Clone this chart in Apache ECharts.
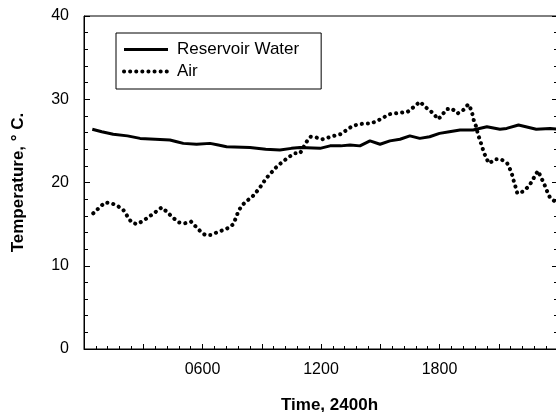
<!DOCTYPE html>
<html>
<head>
<meta charset="utf-8">
<script src="https://cdn.jsdelivr.net/npm/echarts@6/dist/echarts.min.js"></script>
<style>
html,body{margin:0;padding:0;background:#fff;overflow:hidden;}
#chart{width:556px;height:412px;}
</style>
</head>
<body>
<div id="chart"></div>
<script>
// Time in hours (0-24), temperature in °C
var waterHours = [0.42,0.9,1.48,2.2,2.84,3.6,4.35,4.7,5.03,5.7,6.38,6.8,7.22,8.4,9.2,9.92,10.5,10.94,11.95,12.46,13.0,13.47,13.97,14.48,14.99,15.49,16.0,16.5,17.0,17.5,18.0,18.5,19.04,19.7,20.4,21.06,21.4,22.0,22.9,23.6,24.0];
var waterTemps = [26.4,26.1,25.8,25.6,25.3,25.2,25.1,24.9,24.7,24.6,24.7,24.5,24.3,24.2,24.0,23.9,24.1,24.2,24.1,24.4,24.4,24.5,24.4,25.0,24.6,25.0,25.2,25.6,25.3,25.5,25.9,26.1,26.3,26.3,26.7,26.4,26.5,26.9,26.4,26.5,26.4];

var airHours = [0.47,0.78,1.06,1.4,1.69,1.99,2.21,2.41,2.67,3.0,3.3,3.59,3.93,4.19,4.49,4.81,5.11,5.42,5.62,5.87,6.13,6.41,6.72,7.05,7.36,7.56,7.7,7.81,7.98,8.24,8.49,8.74,9.0,9.22,9.45,9.72,10.01,10.34,10.65,10.94,11.27,11.48,11.78,12.08,12.37,12.66,12.99,13.3,13.6,13.94,14.23,14.53,14.85,15.16,15.46,15.78,16.09,16.39,16.71,17.01,17.32,17.64,17.94,18.16,18.36,18.61,18.92,19.2,19.46,19.59,19.68,19.75,19.88,19.93,20.05,20.14,20.25,20.39,20.52,20.81,21.11,21.43,21.57,21.68,21.77,21.86,21.94,22.21,22.5,22.7,22.87,23.0,23.12,23.29,23.42,23.59,23.8,24.0];
var airTemps = [16.3,17.0,17.6,17.5,17.2,16.7,15.9,15.2,15.0,15.4,15.9,16.4,17.0,16.5,15.8,15.2,15.1,15.3,14.8,14.2,13.7,13.7,14.0,14.3,14.6,15.0,15.8,16.5,17.2,17.8,18.2,18.9,19.7,20.5,21.1,21.8,22.4,23.0,23.5,23.5,24.9,25.5,25.4,25.2,25.4,25.6,25.8,26.3,26.8,27.0,27.1,27.1,27.4,27.8,28.2,28.3,28.4,28.5,29.1,29.7,29.0,28.4,27.6,28.2,28.8,28.9,28.3,28.7,29.4,28.8,28.1,27.3,26.6,25.9,25.1,24.4,23.6,22.8,22.3,22.8,22.8,22.3,21.6,20.9,20.1,19.4,18.7,18.9,19.5,20.2,21.0,21.4,20.7,19.9,19.1,18.2,17.8,17.4];

var seriesNames = ['Reservoir Water', 'Air'];
var xLabelHours = [6, 12, 18];
var yTickValues = [0, 10, 20, 30, 40];

function pairs(xs, ys) { return xs.map(function (x, i) { return [x, ys[i]]; }); }
function hhmm(v) { var h = Math.round(v * 100); var s = String(h); while (s.length < 4) s = '0' + s; return s; }

var FONT = '"Liberation Sans", Arial, Helvetica, sans-serif';
var chart = echarts.init(document.getElementById('chart'), null, {renderer: 'canvas'});
chart.setOption({
  backgroundColor: '#fff',
  animation: false,
  textStyle: {fontFamily: FONT, color: '#000'},
  grid: {left: 84, width: 474, top: 16, height: 333, outerBoundsMode: 'none', containLabel: false,
    show: true, borderColor: '#000', borderWidth: 1, backgroundColor: 'transparent'},
  legend: {
    orient: 'vertical', left: 116, top: 33,
    padding: [8, 22, 9, 6],
    itemWidth: 44, itemHeight: 14, itemGap: 5,
    borderColor: '#000', borderWidth: 1, borderRadius: 0, backgroundColor: '#fff',
    itemStyle: {color: 'rgba(0,0,0,0)', borderColor: 'rgba(0,0,0,0)', borderWidth: 0, opacity: 0},
    lineStyle: {width: 'inherit', type: 'inherit', color: 'inherit'},
    textStyle: {fontFamily: FONT, fontSize: 17, color: '#000', padding: [0, 0, 0, 4]},
    data: seriesNames
  },
  xAxis: {
    type: 'value', min: 0, max: 24, interval: 3,
    name: 'Time, 2400h', nameLocation: 'middle', nameGap: 48,
    nameTextStyle: {fontFamily: FONT, fontSize: 17, fontWeight: 'bold', color: '#000', padding: [0, 0, 0, 17]},
    axisLine: {show: true, lineStyle: {color: '#000', width: 1}},
    axisTick: {show: true, inside: true, length: 5, lineStyle: {color: '#000'}},
    minorTick: {show: true, splitNumber: 5, length: 3, lineStyle: {color: '#000'}},
    axisLabel: {fontFamily: FONT, fontSize: 16, color: '#000', margin: 13,
      formatter: function (v) { return xLabelHours.indexOf(v) >= 0 ? hhmm(v) : ''; }},
    splitLine: {show: false}
  },
  yAxis: [{
    type: 'value', min: 0, max: 40, interval: 10, position: 'left',
    name: 'Temperature, ° C.', nameLocation: 'middle', nameGap: 57, nameRotate: 90,
    nameTextStyle: {fontFamily: FONT, fontSize: 17, fontWeight: 'bold', color: '#000'},
    axisLine: {show: true, lineStyle: {color: '#000', width: 1}},
    axisTick: {show: true, inside: true, length: 6, lineStyle: {color: '#000'}},
    minorTick: {show: true, splitNumber: 5, length: 4, lineStyle: {color: '#000'}},
    axisLabel: {fontFamily: FONT, fontSize: 16, color: '#000', margin: 15, padding: [4, 0, 0, 0],
      formatter: function (v) { return yTickValues.indexOf(v) >= 0 ? String(v) : ''; }},
    splitLine: {show: false}
  }, {
    type: 'value', min: 0, max: 40, interval: 10, position: 'right',
    axisLine: {show: true, lineStyle: {color: '#000', width: 1}},
    axisTick: {show: true, inside: true, length: 6, lineStyle: {color: '#000'}},
    minorTick: {show: true, splitNumber: 5, length: 4, lineStyle: {color: '#000'}},
    axisLabel: {show: false},
    splitLine: {show: false}
  }],
  series: [{
    name: seriesNames[0], type: 'line', showSymbol: false, symbol: 'none',
    data: pairs(waterHours, waterTemps),
    lineStyle: {color: '#000', width: 3}, itemStyle: {color: '#000', opacity: 0}
  }, {
    name: seriesNames[1], type: 'line', showSymbol: false, symbol: 'none',
    data: pairs(airHours, airTemps),
    lineStyle: {color: '#000', width: 4, type: [0.1, 6], cap: 'round', join: 'round'}, itemStyle: {color: '#000', opacity: 0}
  }]
});
</script>
</body>
</html>
